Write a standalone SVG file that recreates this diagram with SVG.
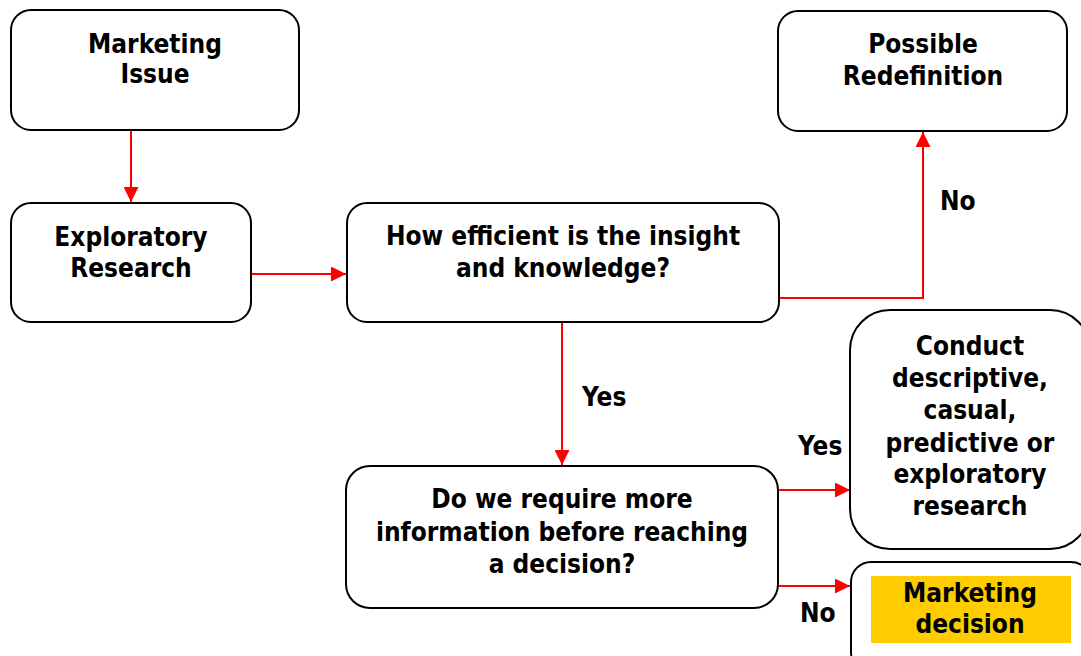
<svg xmlns="http://www.w3.org/2000/svg" width="1081" height="656" viewBox="0 0 1081 656">
<style>
.box{fill:#fff;stroke:#000;stroke-width:2}
.t{font-family:"DejaVu Sans Condensed","DejaVu Sans",sans-serif;font-stretch:condensed;font-weight:bold;font-size:26px;fill:#000;text-anchor:middle}
.l{font-family:"DejaVu Sans Condensed","DejaVu Sans",sans-serif;font-stretch:condensed;font-weight:bold;font-size:26px;fill:#000}
.c{fill:none;stroke:#ff0000;stroke-width:2;marker-end:url(#ah)}
</style>
<defs>
<marker id="ah" viewBox="0 0 10 10" refX="10" refY="5" markerWidth="7.5" markerHeight="7.5" markerUnits="strokeWidth" orient="auto">
<path d="M0,0 L10,5 L0,10 Z" fill="#ff0000"/>
</marker>
</defs>
<rect width="1081" height="656" fill="#fff"/>
<g id="connectors">
<path class="c" d="M131,130 V202"/>
<path class="c" d="M251,274 H346"/>
<path class="c" d="M779,298 H923 V132"/>
<path class="c" d="M562,322 V465"/>
<path class="c" d="M779,490 H850"/>
<path class="c" d="M779,586 H850"/>
</g>
<g id="labels">
<text class="l" x="940" y="210">No</text>
<text class="l" x="582" y="406">Yes</text>
<text class="l" x="798" y="455">Yes</text>
<text class="l" x="800" y="622">No</text>
</g>
<g id="n1">
<rect class="box" x="11" y="10" width="288" height="120" rx="20"/>
<text class="t" x="155" y="53">Marketing</text>
<text class="t" x="155" y="83">Issue</text>
</g>
<g id="n2">
<rect class="box" x="11" y="203" width="240" height="119" rx="20"/>
<text class="t" x="131" y="246">Exploratory</text>
<text class="t" x="131" y="277">Research</text>
</g>
<g id="n3">
<rect class="box" x="347" y="203" width="432" height="119" rx="20"/>
<text class="t" x="563" y="245">How efficient is the insight</text>
<text class="t" x="563" y="277">and knowledge?</text>
</g>
<g id="n4">
<rect class="box" x="778" y="11" width="289" height="120" rx="20"/>
<text class="t" x="923" y="53">Possible</text>
<text class="t" x="923" y="85">Redefinition</text>
</g>
<g id="n5">
<rect class="box" x="346" y="466" width="432" height="142" rx="24"/>
<text class="t" x="562" y="508">Do we require more</text>
<text class="t" x="562" y="541">information before reaching</text>
<text class="t" x="562" y="573">a decision?</text>
</g>
<g id="n6">
<rect class="box" x="850" y="310" width="240" height="239" rx="40"/>
<text class="t" x="970" y="355">Conduct</text>
<text class="t" x="970" y="387">descriptive,</text>
<text class="t" x="970" y="419">casual,</text>
<text class="t" x="970" y="452">predictive or</text>
<text class="t" x="970" y="483">exploratory</text>
<text class="t" x="970" y="515">research</text>
</g>
<g id="n7">
<rect class="box" x="851" y="562" width="240" height="110" rx="20"/>
<rect x="871" y="576" width="200" height="67" fill="#ffcc00"/>
<text class="t" x="970" y="602">Marketing</text>
<text class="t" x="970" y="633">decision</text>
</g>
</svg>
